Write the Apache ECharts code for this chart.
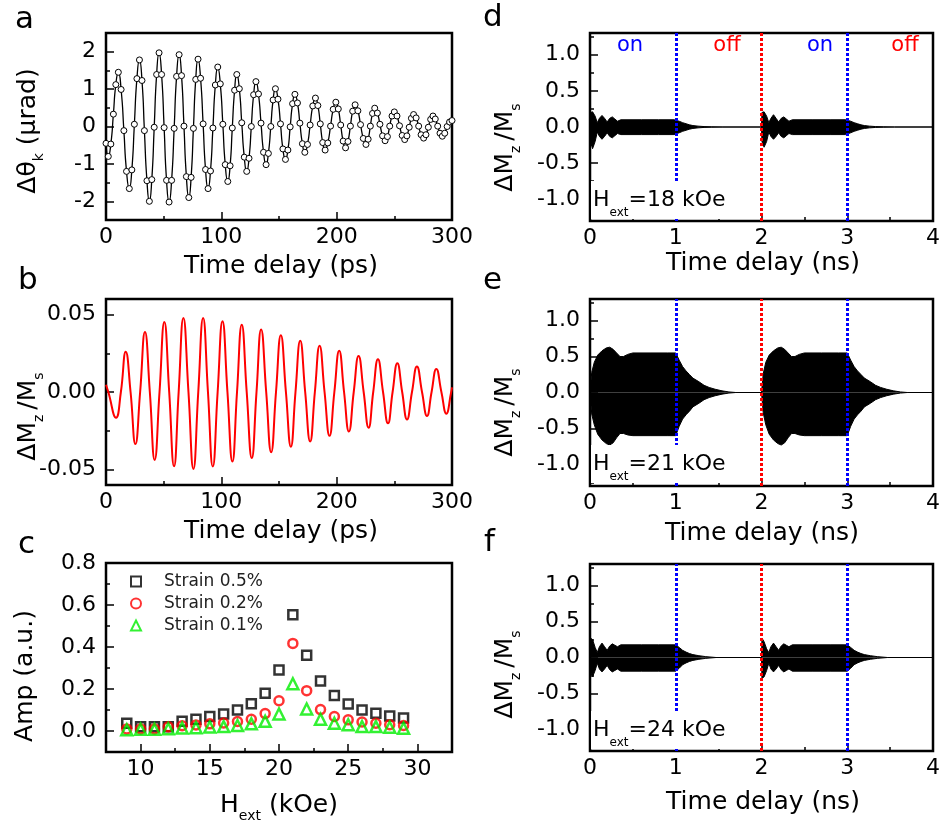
<!DOCTYPE html>
<html><head><meta charset="utf-8">
<script src="https://cdn.jsdelivr.net/npm/echarts@6/dist/echarts.min.js"></script>
<style>html,body{margin:0;padding:0;background:#fff}#c{width:943px;height:832px}</style>
</head><body><div id="c"></div><script>
// ---------- Panel a: Kerr rotation (time in ps, value in µrad) ----------
const aT = [0, 2.0,
  4.2, 6.4, 8.5, 10.7,   13.1, 15.5, 17.8, 20.2,   22.4, 24.6, 26.8, 29.0,   31.2, 33.3, 35.5, 37.6,
  39.7, 41.8, 43.9, 46.0,   48.2, 50.4, 52.5, 54.7,   56.9, 59.1, 61.2, 63.4,   65.5, 67.6, 69.7, 71.8,
  73.8, 75.8, 77.8, 79.8,   82.0, 84.2, 86.3, 88.5,   90.6, 92.7, 94.8, 96.9,   99.1, 101.3, 103.4, 105.6,
  107.6, 109.5, 111.5, 113.4,   115.6, 117.7, 119.9, 122.0,   124.0, 126.0, 128.0, 130.0,   132.2, 134.4, 136.6, 138.8,
  140.8, 142.9, 144.9, 146.9,   149.1, 151.3, 153.4, 155.6,   157.7, 159.7, 161.8, 163.8,   166.0, 168.1, 170.3, 172.4,
  174.7, 177.0, 179.3, 181.6,   183.7, 185.8, 187.9, 190.0,   192.3, 194.7, 197.0, 199.3,   201.4, 203.5, 205.6, 207.7,
  209.8, 211.9, 213.9, 216.0,   218.4, 220.7, 223.1, 225.4,   227.3, 229.2, 231.1, 233.0,   235.3, 237.5, 239.8, 242.0,
  244.0, 246.0, 248.0, 250.0,   252.3, 254.5, 256.8, 259.0,   260.9, 262.9, 264.8, 266.7,   268.9, 271.1, 273.2, 275.4,
  277.4, 279.5, 281.5, 283.5,   285.5, 287.6, 289.6, 291.6,   293.7, 295.8, 297.9, 300];
const aV = [-0.45, -0.80,
  -0.47, 0.33, 1.12, 1.45,   0.99, -0.11, -1.20, -1.66,   -1.16, 0.06, 1.28, 1.78,   1.23, -0.11, -1.45, -2.00,
  -1.42, -0.02, 1.39, 1.97,   1.39, -0.03, -1.44, -2.02,   -1.44, -0.05, 1.34, 1.92,   1.36, 0.01, -1.34, -1.90,
  -1.36, -0.05, 1.26, 1.80,   1.29, 0.07, -1.15, -1.66,   -1.19, -0.04, 1.11, 1.59,   1.14, 0.06, -1.02, -1.47,
  -1.05, -0.04, 0.97, 1.39,   1.01, 0.10, -0.82, -1.20,   -0.85, 0.00, 0.85, 1.20,   0.87, 0.09, -0.69, -1.02,
  -0.72, 0.00, 0.71, 1.01,   0.73, 0.07, -0.60, -0.88,   -0.63, -0.01, 0.61, 0.86,   0.63, 0.09, -0.46, -0.69,
  -0.48, 0.04, 0.55, 0.76,   0.56, 0.07, -0.43, -0.63,   -0.44, 0.01, 0.46, 0.65,   0.47, 0.04, -0.39, -0.57,
  -0.40, 0.01, 0.41, 0.58,   0.42, 0.05, -0.32, -0.48,   -0.34, 0.01, 0.35, 0.49,   0.36, 0.06, -0.25, -0.38,
  -0.27, 0.01, 0.28, 0.39,   0.28, 0.02, -0.24, -0.35,   -0.25, -0.02, 0.22, 0.32,   0.23, 0.01, -0.22, -0.31,
  -0.22, -0.02, 0.19, 0.28,   0.20, 0.01, -0.18, -0.26,   -0.18, 0.00, 0.12, 0.16];

// ---------- Panel b: simulated ΔMz/Ms (ps) ----------
const bT = [0, 2.0, 8.7, 12.9, 17.1, 21.3, 25.5, 29.6, 33.8, 38.0, 42.2, 46.4, 50.6, 54.8, 59.0, 63.0, 67.1, 71.5, 75.8, 80.0,
  84.2, 88.4, 92.6, 96.8, 101.0, 105.3, 109.6, 113.6, 117.7, 122.0, 126.4, 130.5, 134.5, 138.9, 143.2, 147.4, 151.6, 156.0,
  160.3, 164.3, 168.4, 172.7, 177.0, 181.1, 185.2, 189.5, 193.8, 198.0, 202.2, 206.4, 210.6, 214.8, 219.0, 223.4, 227.7,
  231.7, 235.8, 240.2, 244.5, 248.5, 252.6, 256.8, 261.0, 265.3, 269.6, 274.0, 278.3, 282.3, 286.4, 290.8, 295.1, 299.3, 300];
const bV = [0.0047, 0, -0.0166, 0, 0.026, 0, -0.0336, 0, 0.0387, 0, -0.0438, 0, 0.0451, 0, -0.0479, 0, 0.0477, 0, -0.0496, 0,
  0.0477, 0, -0.0481, 0, 0.0457, 0, -0.0449, 0, 0.0434, 0, -0.0426, 0, 0.0404, 0, -0.0389, 0, 0.0366, 0,
  -0.0353, 0, 0.033, 0, -0.0319, 0, 0.0298, 0, -0.0283, 0, 0.0266, 0, -0.0255, 0, 0.0232, 0, -0.023,
  0, 0.0211, 0, -0.0202, 0, 0.0185, 0, -0.0177, 0, 0.0164, 0, -0.0155, 0, 0.0149, 0, -0.014, 0, 0.003];

// ---------- Panel c: amplitude vs field ----------
const cH = [9, 10, 11, 12, 13, 14, 15, 16, 17, 18, 19, 20, 21, 22, 23, 24, 25, 26, 27, 28, 29];
const cNames = ['Strain 0.5%', 'Strain 0.2%', 'Strain 0.1%'];
const c05 = [0.037, 0.02, 0.02, 0.02, 0.046, 0.056, 0.069, 0.081, 0.10, 0.13, 0.18, 0.29, 0.554, 0.361, 0.238, 0.169, 0.128, 0.10, 0.085, 0.072, 0.062];
const c02 = [0.01, 0.01, 0.01, 0.02, 0.025, 0.029, 0.034, 0.038, 0.045, 0.056, 0.083, 0.144, 0.417, 0.192, 0.102, 0.069, 0.053, 0.043, 0.037, 0.03, 0.026];
const c01 = [0.006, 0.008, 0.008, 0.011, 0.014, 0.016, 0.019, 0.021, 0.026, 0.034, 0.046, 0.081, 0.225, 0.105, 0.056, 0.037, 0.03, 0.021, 0.021, 0.018, 0.013];

// ---------- Panels d/e/f: envelopes of ΔMz/Ms (ns) ----------
const dT = [0, 0.005, 0.03, 0.06, 0.085, 0.11, 0.14, 0.17, 0.20, 0.23, 0.26, 0.29, 0.32, 0.36, 0.6, 0.8, 0.98, 1.0,
  1.04, 1.08, 1.12, 1.16, 1.2, 1.26, 1.33, 1.42, 1.55,
  2.0, 2.005, 2.03, 2.06, 2.085, 2.11, 2.14, 2.17, 2.20, 2.23, 2.26, 2.29, 2.32, 2.36, 2.6, 2.8, 2.98, 3.0,
  3.04, 3.08, 3.12, 3.16, 3.2, 3.26, 3.33, 3.42, 3.55, 4.0];
const dUp = [0, 0.20, 0.21, 0.15, 0.06, 0.12, 0.16, 0.12, 0.07, 0.12, 0.14, 0.11, 0.08, 0.10, 0.10, 0.10, 0.10, 0.11,
  0.08, 0.06, 0.045, 0.03, 0.02, 0.012, 0.006, 0.003, 0,
  0, 0.20, 0.21, 0.15, 0.06, 0.12, 0.17, 0.12, 0.07, 0.12, 0.14, 0.11, 0.08, 0.10, 0.10, 0.10, 0.10, 0.11,
  0.08, 0.06, 0.045, 0.03, 0.02, 0.012, 0.006, 0.003, 0, 0];
const dLo = [0, -0.20, -0.30, -0.20, -0.07, -0.13, -0.17, -0.13, -0.08, -0.13, -0.15, -0.12, -0.09, -0.105, -0.105, -0.105, -0.105, -0.11,
  -0.08, -0.06, -0.045, -0.03, -0.02, -0.012, -0.006, -0.003, 0,
  0, -0.20, -0.28, -0.20, -0.07, -0.13, -0.17, -0.13, -0.08, -0.13, -0.15, -0.12, -0.09, -0.105, -0.105, -0.105, -0.105, -0.11,
  -0.08, -0.06, -0.045, -0.03, -0.02, -0.012, -0.006, -0.003, 0, 0];

const eT = [0, 0.02, 0.05, 0.09, 0.14, 0.19, 0.23, 0.27, 0.31, 0.35, 0.39, 0.44, 0.5, 0.7, 0.9, 1.0,
  1.04, 1.08, 1.12, 1.16, 1.2, 1.27, 1.33, 1.39, 1.46, 1.54, 1.62, 1.7,
  2.0, 2.02, 2.05, 2.09, 2.14, 2.19, 2.23, 2.27, 2.31, 2.35, 2.39, 2.44, 2.5, 2.7, 2.9, 3.0,
  3.04, 3.08, 3.12, 3.16, 3.2, 3.27, 3.33, 3.39, 3.46, 3.54, 3.62, 3.7, 4.0];
const eUp = [0, 0.28, 0.42, 0.52, 0.58, 0.62, 0.63, 0.60, 0.55, 0.50, 0.50, 0.53, 0.55, 0.55, 0.55, 0.55,
  0.45, 0.36, 0.30, 0.25, 0.20, 0.15, 0.10, 0.07, 0.045, 0.023, 0.008, 0,
  0, 0.26, 0.42, 0.52, 0.58, 0.62, 0.63, 0.60, 0.55, 0.50, 0.50, 0.53, 0.55, 0.55, 0.55, 0.55,
  0.45, 0.36, 0.30, 0.25, 0.20, 0.15, 0.10, 0.07, 0.045, 0.023, 0.008, 0, 0];
const eLo = [0, -0.30, -0.45, -0.58, -0.66, -0.71, -0.73, -0.70, -0.63, -0.57, -0.57, -0.59, -0.60, -0.60, -0.60, -0.60,
  -0.47, -0.37, -0.31, -0.26, -0.20, -0.15, -0.10, -0.07, -0.045, -0.023, -0.008, 0,
  0, -0.28, -0.45, -0.58, -0.66, -0.71, -0.73, -0.70, -0.63, -0.57, -0.57, -0.59, -0.60, -0.60, -0.60, -0.60,
  -0.47, -0.37, -0.31, -0.26, -0.20, -0.15, -0.10, -0.07, -0.045, -0.023, -0.008, 0, 0];

const fT = [0, 0.005, 0.03, 0.06, 0.085, 0.11, 0.14, 0.17, 0.20, 0.23, 0.26, 0.29, 0.32, 0.36, 0.6, 0.8, 1.0,
  1.04, 1.08, 1.12, 1.16, 1.2, 1.27, 1.35, 1.47,
  2.0, 2.005, 2.03, 2.06, 2.085, 2.11, 2.14, 2.17, 2.20, 2.23, 2.26, 2.29, 2.32, 2.36, 2.6, 2.8, 3.0,
  3.04, 3.08, 3.12, 3.16, 3.2, 3.27, 3.35, 3.47, 4.0];
const fUp = [0, 0.27, 0.25, 0.14, 0.07, 0.15, 0.20, 0.15, 0.10, 0.16, 0.19, 0.17, 0.15, 0.176, 0.176, 0.176, 0.176,
  0.14, 0.10, 0.075, 0.055, 0.04, 0.025, 0.012, 0,
  0, 0.27, 0.22, 0.12, 0.07, 0.15, 0.20, 0.15, 0.10, 0.16, 0.19, 0.17, 0.15, 0.176, 0.176, 0.176, 0.176,
  0.14, 0.10, 0.075, 0.055, 0.04, 0.025, 0.012, 0, 0];
const fLo = [0, -0.20, -0.27, -0.18, -0.08, -0.16, -0.20, -0.16, -0.11, -0.17, -0.20, -0.18, -0.16, -0.19, -0.19, -0.19, -0.19,
  -0.15, -0.10, -0.075, -0.055, -0.04, -0.025, -0.012, 0,
  0, -0.29, -0.27, -0.18, -0.08, -0.16, -0.20, -0.16, -0.11, -0.17, -0.20, -0.18, -0.16, -0.19, -0.19, -0.19, -0.19,
  -0.15, -0.10, -0.075, -0.055, -0.04, -0.025, -0.012, 0, 0];

const fieldLabels = ['18', '21', '24'];
const pulseMarks = [1, 2, 3];

// ---------------------------------------------------------------
const F = 'DejaVu Sans';
const chart = echarts.init(document.getElementById('c'), null, {renderer: 'canvas'});
const pairs = (x, y) => x.map((v, i) => [v, y[i]]);
const TICK = {color: '#000', width: 1.5};

function fmt(major, dec) {
  return v => {
    const k = v / major;
    if (Math.abs(k - Math.round(k)) > 1e-6) return '';
    let r = Math.round(k) * major;
    if (Math.abs(r) < 1e-12) r = 0;
    return r.toFixed(dec);
  };
}
function mainAxis(gi, pos, min, max, major, dec, minorSplit, margin) {
  const aligned = Math.abs(min / major - Math.round(min / major)) < 1e-9;
  const o = {
    type: 'value', gridIndex: gi, position: pos, min: min, max: max,
    axisLine: {show: false, onZero: false}, splitLine: {show: false},
    axisTick: {show: true, inside: true, length: 8, lineStyle: TICK},
    minorTick: {show: minorSplit > 0, splitNumber: minorSplit || 2, length: 4, lineStyle: TICK},
    minorSplitLine: {show: false},
    axisLabel: {margin: margin, fontFamily: F, fontSize: 22, color: '#000', formatter: fmt(major, dec)}
  };
  if (aligned) o.interval = major; else o.splitNumber = Math.round((max - min) / major);
  return o;
}
function minorAxis(gi, pos, min, max, step) {
  return {
    type: 'value', gridIndex: gi, position: pos, min: min, max: max, interval: step,
    axisLine: {show: false, onZero: false}, splitLine: {show: false}, axisLabel: {show: false},
    axisTick: {show: true, inside: true, length: 4, lineStyle: TICK}
  };
}

const grids = [
  {left: 106, top: 33, width: 346, height: 187},
  {left: 106, top: 299, width: 346, height: 186},
  {left: 106, top: 563, width: 346, height: 189},
  {left: 590, top: 33, width: 346, height: 188},
  {left: 590, top: 299, width: 344, height: 187},
  {left: 590, top: 564, width: 346, height: 187}
].map(g => Object.assign(g, {show: true, borderColor: '#000', borderWidth: 2.5, backgroundColor: 'transparent'}));

const xAxes = [], yAxes = [];
const addX = o => (xAxes.push(o), xAxes.length - 1);
const addY = o => (yAxes.push(o), yAxes.length - 1);

const XM = 6, YM = 10;
const xa = addX(mainAxis(0, 'bottom', 0, 300, 100, 0, 2, XM));
const ya = addY(mainAxis(0, 'left', -2.5, 2.5, 1, 0, 0, YM)); addY(minorAxis(0, 'left', -2.5, 2.5, 0.5));
const xb = addX(mainAxis(1, 'bottom', 0, 300, 100, 0, 2, XM));
const yb = addY(mainAxis(1, 'left', -0.06, 0.06, 0.05, 2, 2, YM));
const xc = addX(mainAxis(2, 'bottom', 7.5, 32.5, 5, 0, 0, XM)); addX(minorAxis(2, 'bottom', 7.5, 32.5, 2.5));
const yc = addY(mainAxis(2, 'left', -0.1, 0.8, 0.2, 1, 0, YM)); addY(minorAxis(2, 'left', -0.1, 0.8, 0.1));
const xr = [], yr = [];
for (let i = 0; i < 3; i++) {
  xr.push(addX(mainAxis(3 + i, 'bottom', 0, 4, 1, 0, 2, XM)));
  yr.push(addY(mainAxis(3 + i, 'left', -1.3, 1.3, 0.5, 1, 2, YM)));
}

const series = [
  {type: 'line', name: 'a', xAxisIndex: xa, yAxisIndex: ya, data: pairs(aT, aV), smooth: 0.6,
   symbol: 'circle', symbolSize: 6, showSymbol: true,
   itemStyle: {color: '#fff', borderColor: '#000', borderWidth: 1},
   lineStyle: {color: '#000', width: 1.3}},
  {type: 'line', name: 'b', xAxisIndex: xb, yAxisIndex: yb, data: pairs(bT, bV), smooth: true,
   symbol: 'none', lineStyle: {color: '#ff0000', width: 2}},
  {type: 'scatter', name: cNames[0], xAxisIndex: xc, yAxisIndex: yc, data: pairs(cH, c05),
   symbol: 'rect', symbolSize: 9, itemStyle: {color: 'rgba(255,255,255,0)', borderColor: '#000', borderWidth: 2.5}},
  {type: 'scatter', name: cNames[1], xAxisIndex: xc, yAxisIndex: yc, data: pairs(cH, c02),
   symbol: 'circle', symbolSize: 9, itemStyle: {color: 'rgba(255,255,255,0)', borderColor: '#ff0000', borderWidth: 2.5}},
  {type: 'scatter', name: cNames[2], xAxisIndex: xc, yAxisIndex: yc, data: pairs(cH, c01),
   symbol: 'triangle', symbolSize: 11, itemStyle: {color: 'rgba(255,255,255,0)', borderColor: '#00ee00', borderWidth: 2.5}}
];
const env = [[dT, dUp, dLo], [eT, eUp, eLo], [fT, fUp, fLo]];
env.forEach((e, i) => {
  const base = {type: 'line', xAxisIndex: xr[i], yAxisIndex: yr[i], symbol: 'none',
    lineStyle: {color: '#000', width: 1}, areaStyle: {color: '#000', opacity: 1}};
  series.push(Object.assign({}, base, {name: 'up' + i, data: pairs(e[0], e[1]),
    markLine: {silent: true, symbol: ['none', 'none'], label: {show: false}, animation: false,
      lineStyle: {type: [3, 2], width: 3},
      data: pulseMarks.map(t => ({xAxis: t, lineStyle: {color: t === 2 ? '#ff0000' : '#0000ff'}}))}}));
  series.push(Object.assign({}, base, {name: 'lo' + i, data: pairs(e[0], e[2])}));
});

// ---------- text ----------
function textStyle(text, o) {
  const fs = o.fs || 24, lh = o.lh || 36, col = o.color || '#000';
  const st = {legacy: false, text: text, fill: col,
    align: o.align || 'center', verticalAlign: o.va || 'middle',
    textAlign: o.align || 'center', textVerticalAlign: o.va || 'middle',
    fontFamily: F, fontSize: fs,
    rich: {
      m: {fontFamily: F, fontSize: fs, lineHeight: lh, fill: col},
      s: {fontFamily: F, fontSize: Math.round(fs * 0.56), lineHeight: 12, verticalAlign: 'bottom', fill: col, padding: o.spad || 0}
    }};
  if (o.bg) { st.backgroundColor = o.bg; st.padding = [0, 3, 0, 2]; }
  return st;
}
function T(x, y, text, o) {
  o = o || {};
  return {type: 'text', x: x, y: y, z: 100, rotation: o.rot || 0, style: textStyle(text, o)};
}
const R = Math.PI / 2;
const SP = [0, 5, 0, 0];
const graphics = [
  T(15, 20, 'a', {fs: 31, align: 'left'}), T(18, 281, 'b', {fs: 31, align: 'left'}), T(18, 545, 'c', {fs: 31, align: 'left'}),
  T(483, 18, 'd', {fs: 31, align: 'left'}), T(483, 281, 'e', {fs: 31, align: 'left'}), T(484, 543, 'f', {fs: 31, align: 'left'}),
  T(281, 266, 'Time delay (ps)', {fs: 25}),
  T(281, 531, 'Time delay (ps)', {fs: 25}),
  T(279, 805, '{m|H}{s|ext}{m| (kOe)}', {fs: 25}),
  T(763, 263, 'Time delay (ns)', {fs: 25}),
  T(762, 533, 'Time delay (ns)', {fs: 25}),
  T(763, 802, 'Time delay (ns)', {fs: 25}),
  T(28, 131, '{m|Δθ}{s|k}{m| (µrad)}', {rot: R, fs: 25}),
  T(28, 414, '{m|ΔM}{s|z}{m|/M}{s|s}', {rot: R, fs: 25, spad: SP}),
  T(25, 676, 'Amp (a.u.)', {rot: R, fs: 25}),
  T(505, 145, '{m|ΔM}{s|z}{m|/M}{s|s}', {rot: R, fs: 25, spad: SP}),
  T(505, 410, '{m|ΔM}{s|z}{m|/M}{s|s}', {rot: R, fs: 25, spad: SP}),
  T(505, 672, '{m|ΔM}{s|z}{m|/M}{s|s}', {rot: R, fs: 25, spad: SP}),
  T(630, 46, 'on', {fs: 21, color: '#0000ff'}),
  T(727, 46, 'off', {fs: 21, color: '#ff0000'}),
  T(820, 46, 'on', {fs: 21, color: '#0000ff'}),
  T(905, 46, 'off', {fs: 21, color: '#ff0000'}),
  T(591, 181, '{m|H}{s|ext}{m|=' + fieldLabels[0] + ' kOe}', {fs: 22, lh: 38, align: 'left', va: 'top', bg: '#fff'}),
  T(591, 445, '{m|H}{s|ext}{m|=' + fieldLabels[1] + ' kOe}', {fs: 22, lh: 38, align: 'left', va: 'top', bg: '#fff'}),
  T(591, 711, '{m|H}{s|ext}{m|=' + fieldLabels[2] + ' kOe}', {fs: 22, lh: 38, align: 'left', va: 'top', bg: '#fff'})
];

chart.setOption({
  animation: false,
  backgroundColor: '#fff',
  grid: grids,
  xAxis: xAxes,
  yAxis: yAxes,
  legend: {data: cNames, orient: 'vertical', left: 125, top: 568, itemWidth: 10, itemHeight: 10, itemGap: 5,
    selectedMode: false, textStyle: {fontFamily: F, fontSize: 17, color: '#222', padding: [0, 0, 0, 18]}},
  series: series,
  graphic: {elements: graphics}
});
</script></body></html>
